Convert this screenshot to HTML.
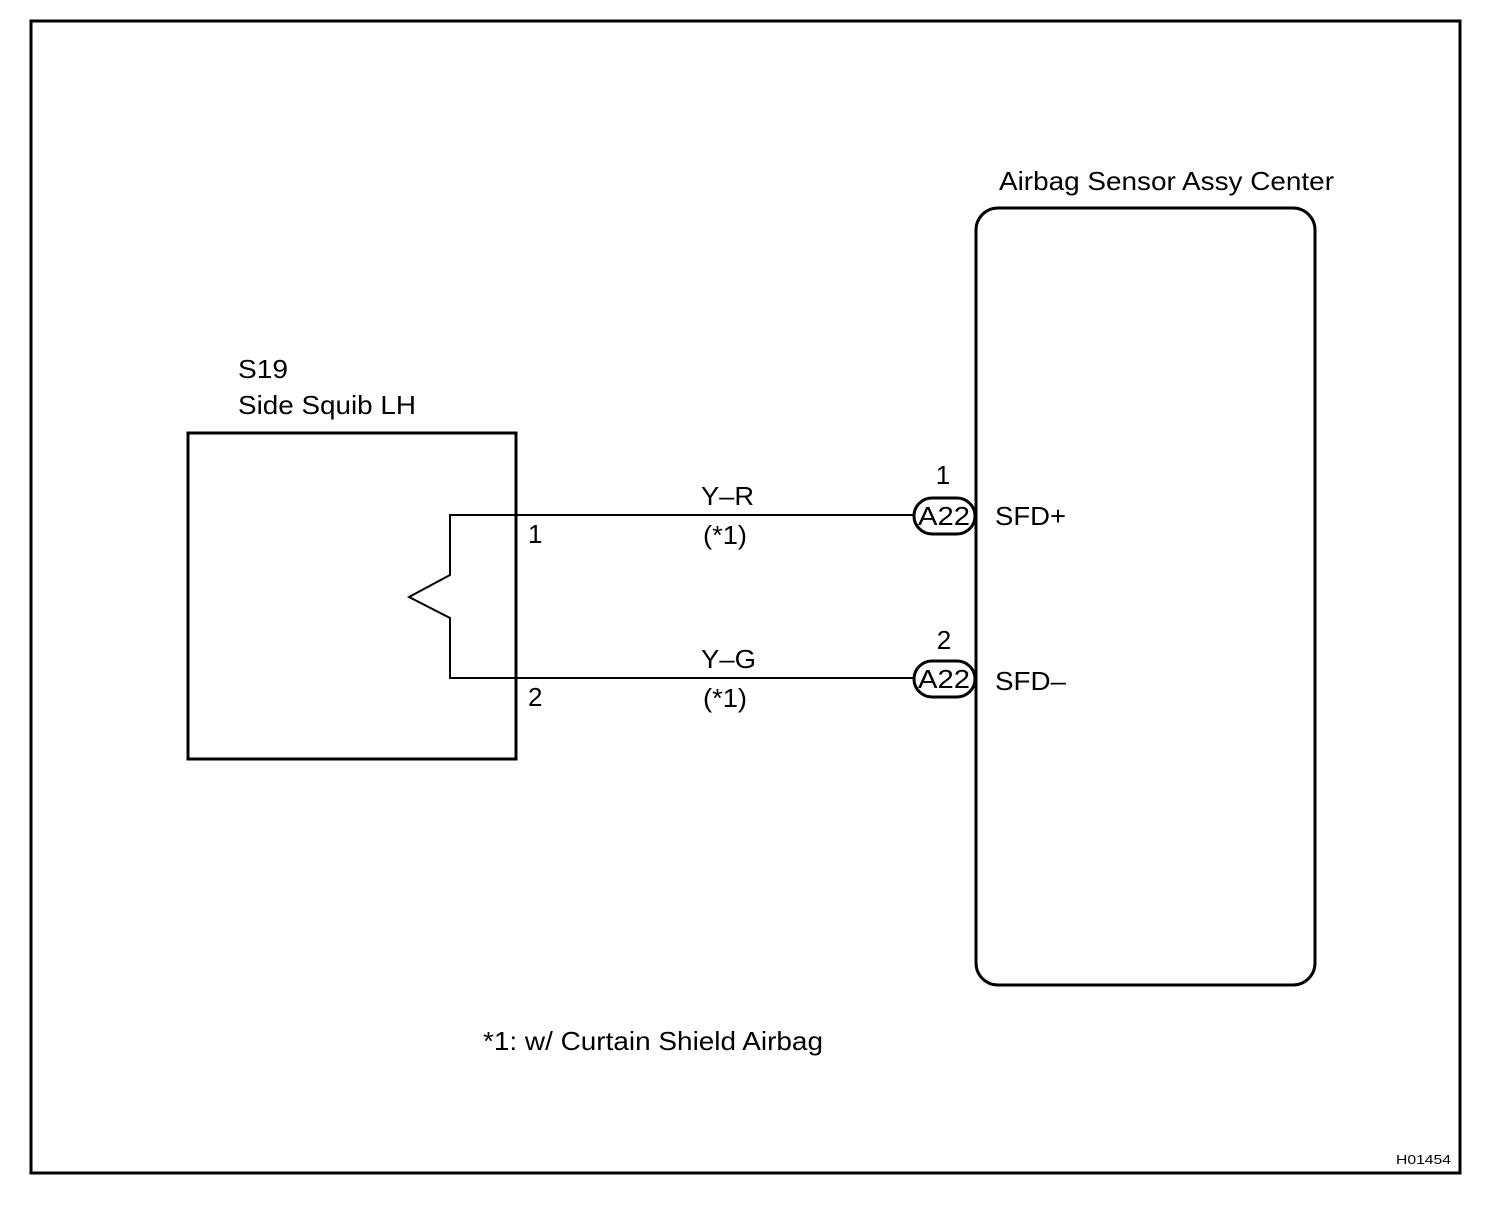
<!DOCTYPE html>
<html><head><style>body{margin:0;background:#fff}</style></head><body>
<svg width="1504" height="1200" xmlns="http://www.w3.org/2000/svg" font-family="Liberation Sans, Arial, sans-serif" font-size="26" fill="#000">
<rect x="0" y="0" width="1504" height="1200" fill="#fff"/>
<rect x="31" y="21" width="1429" height="1152" fill="none" stroke="#000" stroke-width="3"/>
<rect x="188" y="433" width="328" height="326" fill="none" stroke="#000" stroke-width="3"/>
<rect x="976" y="208" width="339" height="777" rx="22" fill="none" stroke="#000" stroke-width="3"/>
<polyline points="915,515 450,515 450,575 409,597 450,618 450,678 915,678" fill="none" stroke="#000" stroke-width="2"/>
<rect x="914" y="498" width="61" height="36" rx="18" fill="#fff" stroke="#000" stroke-width="3"/>
<rect x="914" y="661" width="61" height="36" rx="18" fill="#fff" stroke="#000" stroke-width="3"/>
<text x="918" y="525" textLength="52" lengthAdjust="spacingAndGlyphs">A22</text>
<text x="918" y="688" textLength="52" lengthAdjust="spacingAndGlyphs">A22</text>
<text x="943" y="484" text-anchor="middle">1</text>
<text x="944" y="649" text-anchor="middle">2</text>
<text x="995" y="525" textLength="71" lengthAdjust="spacingAndGlyphs">SFD+</text>
<text x="995" y="690" textLength="71" lengthAdjust="spacingAndGlyphs">SFD–</text>
<text x="238" y="378" textLength="50" lengthAdjust="spacingAndGlyphs">S19</text>
<text x="238" y="414" textLength="178" lengthAdjust="spacingAndGlyphs">Side Squib LH</text>
<text x="999" y="190" textLength="335" lengthAdjust="spacingAndGlyphs">Airbag Sensor Assy Center</text>
<text x="528" y="543">1</text>
<text x="528" y="706">2</text>
<text x="701" y="505" textLength="53" lengthAdjust="spacingAndGlyphs">Y–R</text>
<text x="703" y="544" textLength="44" lengthAdjust="spacingAndGlyphs">(*1)</text>
<text x="701" y="668" textLength="55" lengthAdjust="spacingAndGlyphs">Y–G</text>
<text x="703" y="707" textLength="44" lengthAdjust="spacingAndGlyphs">(*1)</text>
<text x="483" y="1050" textLength="340" lengthAdjust="spacingAndGlyphs">*1: w/ Curtain Shield Airbag</text>
<text x="1396" y="1164" font-size="13" textLength="55" lengthAdjust="spacingAndGlyphs">H01454</text>
</svg>
</body></html>
